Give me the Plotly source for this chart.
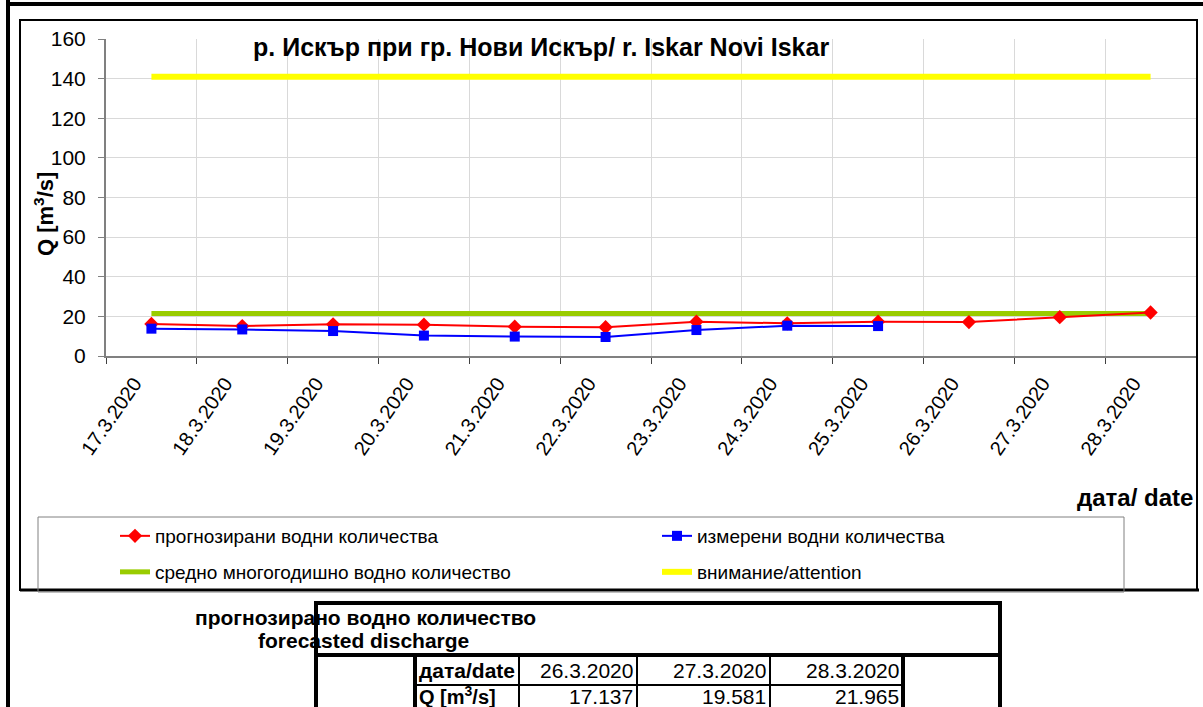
import plotly.graph_objects as go

# ---------------- data ----------------
dates = ["17.3.2020", "18.3.2020", "19.3.2020", "20.3.2020", "21.3.2020", "22.3.2020",
         "23.3.2020", "24.3.2020", "25.3.2020", "26.3.2020", "27.3.2020", "28.3.2020"]
forecast = [16.2, 15.1, 16.0, 15.8, 14.8, 14.5, 17.3, 16.5, 17.3, 17.137, 19.581, 21.965]
measured = [13.8, 13.4, 12.6, 10.3, 9.8, 9.6, 13.1, 15.3, 15.1, None, None, None]
mean_annual = [21.5, 21.5, 21.5, 21.5, 21.5, 21.5, 21.5, 21.5, 21.5, 21.5, 21.5, 21.5]
attention = [141, 141, 141, 141, 141, 141, 141, 141, 141, 141, 141, 141]

table_dates = ["26.3.2020", "27.3.2020", "28.3.2020"]
table_values = ["17.137", "19.581", "21.965"]

y_ticks = [0, 20, 40, 60, 80, 100, 120, 140, 160]

# ---------------- geometry helpers ----------------
W, H = 1203, 707
PL, PR, PT, PB = 106, 1196, 39, 356
FONT = "Liberation Sans, Arial, sans-serif"


def fx(x):
    return (x - PL) / (PR - PL)


def fy(y):
    return (PB - y) / (PB - PT)


fig = go.Figure()

fig.add_trace(go.Scatter(x=dates, y=mean_annual, mode="lines",
                         line=dict(color="#99CC00", width=5),
                         name="средно многогодишно водно количество", legend="legend2"))
fig.add_trace(go.Scatter(x=dates, y=attention, mode="lines",
                         line=dict(color="#FFFF00", width=6),
                         name="внимание/attention", legend="legend2"))
fig.add_trace(go.Scatter(x=dates, y=forecast, mode="lines+markers",
                         line=dict(color="#FF0000", width=2),
                         marker=dict(symbol="diamond", size=11, color="#FF0000"),
                         name="прогнозирани водни количества", legend="legend"))
fig.add_trace(go.Scatter(x=dates, y=measured, mode="lines+markers",
                         line=dict(color="#0000FF", width=2),
                         marker=dict(symbol="square", size=10, color="#0000FF"),
                         name="измерени водни количества", legend="legend"))

shapes = []


def line(x0, y0, x1, y1, w=2, color="black"):
    shapes.append(dict(type="line", xref="paper", yref="paper",
                       x0=fx(x0), y0=fy(y0), x1=fx(x1), y1=fy(y1),
                       line=dict(color=color, width=w)))


def rect(x0, y0, x1, y1, w=2, color="black"):
    shapes.append(dict(type="rect", xref="paper", yref="paper",
                       x0=fx(x0), y0=fy(y0), x1=fx(x1), y1=fy(y1),
                       line=dict(color=color, width=w), fillcolor="rgba(0,0,0,0)"))


# outer frame
line(8, 0, 8, 707, w=4)
line(8, 4, 1203, 4, w=4)
# chart border
rect(20, 20, 1197, 590, w=2)
line(20, 590, 1199, 590, w=3)
# legend box
rect(38, 517, 1124, 592, w=1, color="#808080")
# table
rect(316, 603, 1000, 712, w=4)
line(316, 655, 1000, 655, w=4)
line(415, 655, 415, 712, w=4)
line(903, 655, 903, 712, w=4)
for xc in [519, 637, 770]:
    line(xc, 655, xc, 712, w=2)
line(415, 685, 903, 685, w=2)

ann = []


def text(x, y, s, size=16, bold=False, xanchor="left", angle=0):
    ann.append(dict(xref="paper", yref="paper", x=fx(x), y=fy(y),
                    text=("<b>%s</b>" % s) if bold else s, showarrow=False,
                    xanchor=xanchor, yanchor="middle", textangle=angle,
                    font=dict(family=FONT, size=size, color="black")))


text(251, 47, "р. Искър при гр. Нови Искър/ r. Iskar Novi Iskar", size=25, bold=True)
text(44, 214, "Q [m<sup>3</sup>/s]", size=22, bold=True, xanchor="center", angle=-90)
text(1195, 498, "дата/ date", size=24, bold=True, xanchor="right")
text(193, 617, "прогнозирано водно количество", size=21, bold=True)
text(256, 640, "forecasted discharge", size=21, bold=True)
text(417, 670, "дата/date", size=21, bold=True)
text(417, 695, "Q [m<sup>3</sup>/s]", size=20, bold=True)
col_right = [635, 768, 901]
for xr, d, v in zip(col_right, table_dates, table_values):
    text(xr, 670, d, size=21, xanchor="right")
    text(xr, 696, v, size=21, xanchor="right")

fig.update_layout(
    width=W, height=H,
    margin=dict(l=PL, r=W - PR, t=PT, b=H - PB, autoexpand=False),
    paper_bgcolor="white", plot_bgcolor="white",
    font=dict(family=FONT, size=16, color="black"),
    shapes=shapes, annotations=ann,
    legend=dict(orientation="h", xref="container", yref="container",
                x=115 / W, y=1 - 536 / H, xanchor="left", yanchor="middle",
                entrywidth=497, entrywidthmode="pixels",
                font=dict(family=FONT, size=19), bgcolor="rgba(0,0,0,0)", borderwidth=0),
    legend2=dict(orientation="h", xref="container", yref="container",
                 x=115 / W, y=1 - 572 / H, xanchor="left", yanchor="middle",
                 entrywidth=497, entrywidthmode="pixels",
                 font=dict(family=FONT, size=19), bgcolor="rgba(0,0,0,0)", borderwidth=0),
    showlegend=True,
)

fig.update_xaxes(type="category", range=[-0.5, 11.5], tickson="boundaries",
                 showgrid=True, gridcolor="#d9d9d9", gridwidth=1,
                 showline=True, linecolor="#808080", linewidth=2,
                 ticks="outside", ticklen=6, tickcolor="#404040",
                 tickangle=-55, ticklabelshift=-17, ticklabelstandoff=6,
                 tickfont=dict(family=FONT, size=20, color="black"),
                 zeroline=False)
fig.update_yaxes(range=[0, 160], tickvals=y_ticks, showgrid=True, gridcolor="#d9d9d9",
                 gridwidth=1, showline=True, linecolor="#808080", linewidth=2,
                 ticks="outside", ticklen=6, tickcolor="#808080",
                 ticklabelstandoff=8,
                 tickfont=dict(family=FONT, size=21, color="black"), zeroline=False)

fig.write_html("out.html", config={"displayModeBar": False},
               post_script="document.body.style.margin='0px';")
